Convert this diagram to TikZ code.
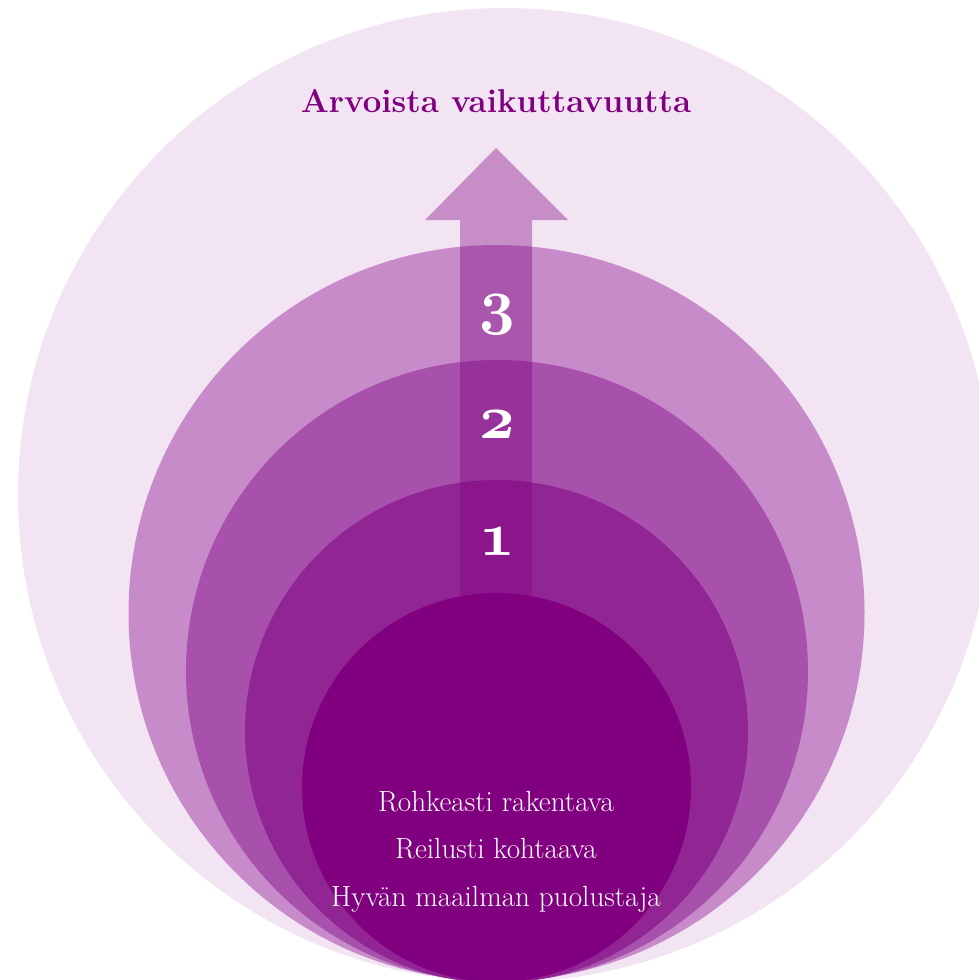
\documentclass[tikz,border=0pt]{standalone}
\usepackage{fontspec}
\setmainfont{Latin Modern Roman}
\definecolor{outerc}{HTML}{F3E4F4}
\definecolor{cthree}{HTML}{C78BC9}
\definecolor{ctwo}{HTML}{A851AC}
\definecolor{cone}{HTML}{922594}
\definecolor{cinner}{HTML}{800080}
\font\osnumfont=cmmib10 at 62pt
\begin{document}
\begin{tikzpicture}[x=1pt,y=-1pt,
  numlabel/.style={text=white,anchor=base,inner sep=0pt,font=\osnumfont},
  bodytext/.style={text=white,anchor=base,inner sep=0pt,font=\fontsize{29.2}{32}\selectfont},
  titletext/.style={text=cinner,anchor=base,inner sep=0pt,font=\fontsize{33}{36}\selectfont\bfseries}]
\useasboundingbox (0,0) rectangle (979,980);
\clip (0,0) rectangle (979,980);
\fill[outerc] (505,495) circle[radius=487];
\fill[cthree] (496.5,613) circle[radius=368];
\fill[ctwo] (497,671) circle[radius=311];
\fill[cone] (496.5,731.5) circle[radius=251.5];
\fill[cinner,opacity=0.38] (460,700) -- (460,220) -- (425,220) -- (496,148) -- (568,220) -- (532,220) -- (532,700) -- cycle;
\fill[cinner] (496.5,787.5) circle[radius=194.5];
\node[titletext] (title) at (496,112) {Arvoista vaikuttavuutta};
\node[numlabel] (n3) at (497,322) {3};
\node[numlabel] (n2) at (497,438) {2};
\node[numlabel] (n1) at (497,555) {1};
\node[bodytext] (l1) at (496,811) {Rohkeasti rakentava};
\node[bodytext] (l2) at (496,858) {Reilusti kohtaava};
\node[bodytext] (l3) at (496,906) {Hyvän maailman puolustaja};
\end{tikzpicture}
\end{document}
